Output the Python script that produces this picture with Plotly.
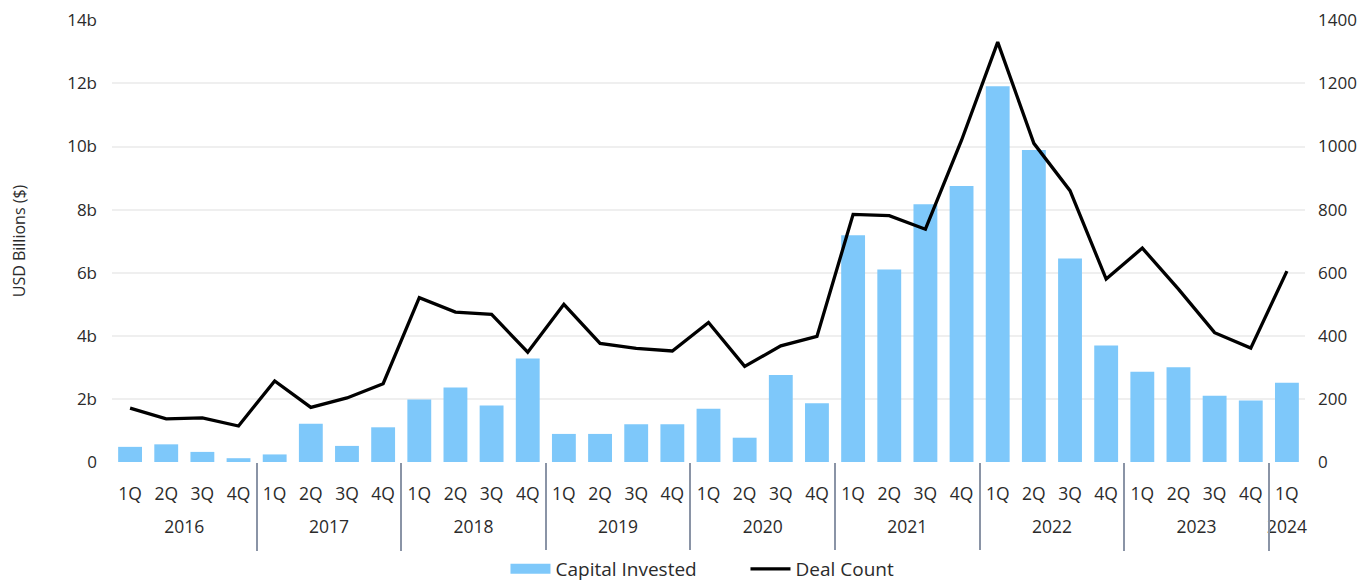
import plotly.graph_objects as go

years = ["2016"] * 4 + ["2017"] * 4 + ["2018"] * 4 + ["2019"] * 4 + ["2020"] * 4 + \
        ["2021"] * 4 + ["2022"] * 4 + ["2023"] * 4 + ["2024"]
quarters = (["1Q", "2Q", "3Q", "4Q"] * 9)[:len(years)]

capital_invested = [0.48, 0.56, 0.32, 0.12,
                    0.24, 1.21, 0.51, 1.10,
                    1.98, 2.36, 1.79, 3.28,
                    0.89, 0.89, 1.20, 1.20,
                    1.69, 0.77, 2.76, 1.86,
                    7.19, 6.10, 8.17, 8.75,
                    11.91, 9.89, 6.45, 3.69,
                    2.86, 3.00, 2.10, 1.95,
                    2.51]

deal_count = [171, 137, 140, 114,
              257, 173, 203, 248,
              521, 475, 468, 348,
              500, 376, 360, 352,
              442, 303, 368, 398,
              785, 781, 738, 1020,
              1331, 1010, 860, 580,
              678, 548, 410, 361,
              605]

left_ticks = [0, 2, 4, 6, 8, 10, 12, 14]
left_labels = ["0", "2b", "4b", "6b", "8b", "10b", "12b", "14b"]
right_ticks = [0, 200, 400, 600, 800, 1000, 1200, 1400]

# category positions derived from the data order
idx = list(range(len(quarters)))
year_names = []
for y in years:
    if y not in year_names:
        year_names.append(y)
year_centers = [sum(i for i, y in enumerate(years) if y == yn) / years.count(yn) for yn in year_names]
year_bounds = [i - 0.5 for i in range(1, len(years)) if years[i] != years[i - 1]]

FONT = "Open Sans, Inter, sans-serif"
TXT = "#2b2b2b"
BAR = "#7ec8fa"
XR = [-0.5, len(idx) - 0.5]

fig = go.Figure()
fig.add_trace(go.Bar(
    x=idx, y=capital_invested, name="Capital Invested",
    marker=dict(color=BAR, line=dict(width=0)),
    yaxis="y", showlegend=False,
))
# legend proxy for the bar series (wide swatch like the reference)
fig.add_trace(go.Scatter(
    x=[None], y=[None], name="Capital Invested",
    mode="lines", line=dict(color=BAR, width=14), yaxis="y", hoverinfo="skip",
))
fig.add_trace(go.Scatter(
    x=idx, y=deal_count, name="Deal Count",
    mode="lines", line=dict(color="#000000", width=3.3),
    yaxis="y2",
))
# invisible helpers to activate the secondary x axes
fig.add_trace(go.Scatter(x=year_centers, y=[None] * len(year_centers), xaxis="x2",
                         showlegend=False, hoverinfo="skip"))
fig.add_trace(go.Scatter(x=year_bounds, y=[None] * len(year_bounds), xaxis="x3",
                         showlegend=False, hoverinfo="skip"))

fig.update_layout(
    width=1364, height=578,
    margin=dict(l=104, r=67, t=12, b=124, autoexpand=False),
    paper_bgcolor="white", plot_bgcolor="white",
    font=dict(family=FONT, size=17, color=TXT),
    bargap=0.34,
    showlegend=True,
    legend=dict(orientation="h", x=0.531, xanchor="center", y=-0.199, yanchor="top",
                font=dict(size=19, color=TXT), itemwidth=40, traceorder="normal",
                entrywidth=185),
    xaxis=dict(
        range=XR, tickvals=idx, ticktext=quarters,
        showgrid=False, showline=False, zeroline=False, ticks="",
        tickfont=dict(size=17.5, color=TXT), ticklabelstandoff=19,
    ),
    xaxis2=dict(
        range=XR, overlaying="x", anchor="y", side="bottom",
        tickvals=year_centers, ticktext=year_names,
        showgrid=False, showline=False, zeroline=False, ticks="",
        tickfont=dict(size=17.5, color=TXT), ticklabelstandoff=52,
    ),
    xaxis3=dict(
        range=XR, overlaying="x", anchor="y", side="bottom",
        tickvals=year_bounds, showticklabels=False,
        showgrid=False, showline=False, zeroline=False,
        ticks="outside", ticklen=88, tickwidth=1.5, tickcolor="#8a94a6",
    ),
    yaxis=dict(
        range=[0, 14.01], tickvals=left_ticks, ticktext=left_labels,
        showgrid=True, gridcolor="#efefef", gridwidth=1.5, zeroline=False,
        showline=False, ticks="", ticklabelstandoff=14,
        tickfont=dict(size=17, color=TXT),
        title=dict(text="USD Billions ($)", font=dict(size=16, color=TXT), standoff=45),
    ),
    yaxis2=dict(
        range=[0, 1401], tickvals=right_ticks, overlaying="y", side="right",
        showgrid=False, zeroline=False, showline=False, ticks="",
        ticklabelstandoff=12, tickfont=dict(size=17, color=TXT),
    ),
)

fig.write_html("out.html")
